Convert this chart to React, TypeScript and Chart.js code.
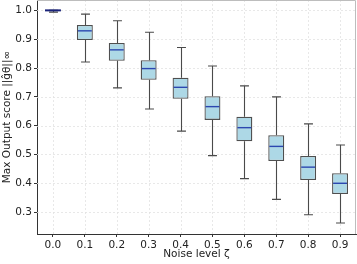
import React, { useEffect, useRef } from 'react';
import { Chart, registerables } from 'chart.js';

Chart.register(...registerables);

const noiseLevels = ['0.0', '0.1', '0.2', '0.3', '0.4', '0.5', '0.6', '0.7', '0.8', '0.9'];
const whiskerLow = [0.994, 0.821, 0.731, 0.658, 0.581, 0.496, 0.416, 0.344, 0.291, 0.262];
const q1 = [0.999, 0.897, 0.825, 0.759, 0.693, 0.62, 0.546, 0.477, 0.411, 0.363];
const medians = [1.0, 0.929, 0.863, 0.798, 0.733, 0.666, 0.593, 0.528, 0.456, 0.4];
const q3 = [1.0, 0.949, 0.887, 0.827, 0.766, 0.702, 0.631, 0.567, 0.495, 0.435];
const whiskerHigh = [1.0, 0.987, 0.964, 0.924, 0.871, 0.807, 0.738, 0.7, 0.606, 0.533];
const yTicks = [0.3, 0.4, 0.5, 0.6, 0.7, 0.8, 0.9, 1.0];

export default function App() {
  const ref = useRef<HTMLCanvasElement>(null);

  useEffect(() => {
    if (!ref.current) return;
    const boxPlugin = {
      id: 'boxExtras',
      beforeDatasetsDraw(chart: any) {
        const { ctx, chartArea, scales } = chart;
        const x = scales.x;
        const y = scales.y;
        ctx.save();
        // grid
        ctx.strokeStyle = '#e2e2e2';
        ctx.lineWidth = 0.8;
        ctx.setLineDash([2, 2]);
        y.ticks.forEach((_: any, i: number) => {
          const py = Math.round(y.getPixelForTick(i)) + 0.5;
          ctx.beginPath();
          ctx.moveTo(chartArea.left, py);
          ctx.lineTo(chartArea.right, py);
          ctx.stroke();
        });
        x.ticks.forEach((_: any, i: number) => {
          const px = Math.round(x.getPixelForValue(i)) + 0.5;
          ctx.beginPath();
          ctx.moveTo(px, chartArea.top);
          ctx.lineTo(px, chartArea.bottom);
          ctx.stroke();
        });
        ctx.setLineDash([]);
        // whiskers
        const step = x.getPixelForValue(1) - x.getPixelForValue(0);
        const capHalf = step * 0.14;
        ctx.strokeStyle = '#4a4a4a';
        ctx.lineWidth = 1.1;
        noiseLevels.forEach((_, i) => {
          const px = Math.round(x.getPixelForValue(i)) + 0.5;
          const yLo = y.getPixelForValue(whiskerLow[i]);
          const yQ1 = y.getPixelForValue(q1[i]);
          const yQ3 = y.getPixelForValue(q3[i]);
          const yHi = y.getPixelForValue(whiskerHigh[i]);
          ctx.beginPath();
          ctx.moveTo(px, yQ1);
          ctx.lineTo(px, yLo);
          ctx.moveTo(px, yQ3);
          ctx.lineTo(px, yHi);
          ctx.moveTo(px - capHalf, yLo);
          ctx.lineTo(px + capHalf, yLo);
          ctx.moveTo(px - capHalf, yHi);
          ctx.lineTo(px + capHalf, yHi);
          ctx.stroke();
        });
        ctx.restore();
      },
      afterDatasetsDraw(chart: any) {
        const { ctx, chartArea, scales } = chart;
        const x = scales.x;
        const y = scales.y;
        const step = x.getPixelForValue(1) - x.getPixelForValue(0);
        const half = step * 0.25;
        ctx.save();
        noiseLevels.forEach((_, i) => {
          const px = x.getPixelForValue(i);
          const py = y.getPixelForValue(medians[i]);
          const flat = y.getPixelForValue(q1[i]) - y.getPixelForValue(q3[i]) < 2;
          ctx.strokeStyle = flat ? '#1a237a' : '#2c47b0';
          ctx.lineWidth = flat ? 2 : 1.4;
          ctx.beginPath();
          ctx.moveTo(px - half + (flat ? 0 : 1), py);
          ctx.lineTo(px + half - (flat ? 0 : 1), py);
          ctx.stroke();
        });
        // top / right frame
        ctx.strokeStyle = '#bdbdbd';
        ctx.lineWidth = 1;
        ctx.beginPath();
        ctx.moveTo(chartArea.left, chartArea.top + 0.5);
        ctx.lineTo(chartArea.right - 0.5, chartArea.top + 0.5);
        ctx.lineTo(chartArea.right - 0.5, chartArea.bottom);
        ctx.stroke();
        ctx.restore();
      },
    };

    const tickFont = { family: 'DejaVu Sans', size: 10.5 };

    const chart = new Chart(ref.current, {
      type: 'bar',
      data: {
        labels: noiseLevels,
        datasets: [
          {
            data: noiseLevels.map((_, i) => [q1[i], q3[i]]) as any,
            backgroundColor: '#add8e6',
            borderColor: '#4f4f4f',
            borderWidth: 1.3,
            borderSkipped: false,
            categoryPercentage: 1,
            barPercentage: 0.5,
          },
        ],
      },
      options: {
        responsive: false,
        animation: false,
        layout: { padding: { top: 0, right: 1, left: 0, bottom: 0 } },
        plugins: { legend: { display: false }, tooltip: { enabled: false } },
        scales: {
          x: {
            type: 'category',
            offset: true,
            grid: { drawOnChartArea: false, offset: false, tickLength: 3, color: '#333', tickWidth: 1 },
            border: { color: '#333', width: 1 },
            ticks: { color: '#222', padding: 2, font: tickFont, maxRotation: 0 },
            title: {
              display: true,
              text: 'Noise level ζ',
              color: '#222',
              font: tickFont,
              padding: { top: 0, bottom: 3 },
            },
            afterFit(scale: any) {
              scale.height = 30;
              scale.paddingLeft = 0;
              scale.paddingRight = 0;
            },
          },
          y: {
            type: 'linear',
            min: 0.224,
            max: 1.036,
            grid: { drawOnChartArea: false, tickLength: 3, color: '#333', tickWidth: 1 },
            border: { color: '#333', width: 1 },
            afterBuildTicks(scale: any) {
              scale.ticks = yTicks.map((v) => ({ value: v }));
            },
            ticks: {
              color: '#222',
              padding: 2,
              font: tickFont,
              callback: (v: any) => Number(v).toFixed(1),
            },
            title: {
              display: true,
              text: 'Max Output score ||ĝθ||∞',
              color: '#222',
              font: tickFont,
              padding: { top: 1, bottom: 0 },
            },
            afterFit(scale: any) {
              scale.width = 37;
              scale.paddingTop = 0;
              scale.paddingBottom = 0;
            },
          },
        },
      } as any,
      plugins: [boxPlugin],
    });
    return () => chart.destroy();
  }, []);

  return (
    <div style={{ position: 'absolute', left: 0, top: 0, width: 357, height: 264, background: '#fff' }}>
      <canvas ref={ref} width={357} height={264} />
    </div>
  );
}
